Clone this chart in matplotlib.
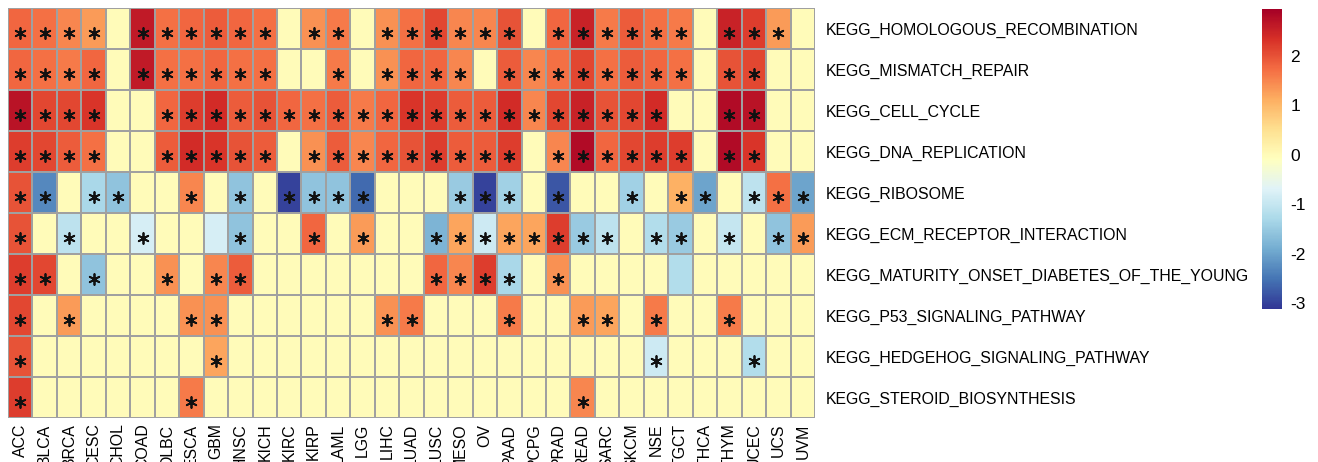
import numpy as np
import matplotlib
matplotlib.use("Agg")
import matplotlib.pyplot as plt
from matplotlib.colors import Normalize

cancers = ["ACC", "BLCA", "BRCA", "CESC", "CHOL", "COAD", "DLBC", "ESCA", "GBM", "HNSC", "KICH",
           "KIRC", "KIRP", "LAML", "LGG", "LIHC", "LUAD", "LUSC", "MESO", "OV", "PAAD", "PCPG",
           "PRAD", "READ", "SARC", "SKCM", "NSE", "TGCT", "THCA", "THYM", "UCEC", "UCS", "UVM"]

pathways = ["KEGG_HOMOLOGOUS_RECOMBINATION", "KEGG_MISMATCH_REPAIR", "KEGG_CELL_CYCLE",
            "KEGG_DNA_REPLICATION", "KEGG_RIBOSOME", "KEGG_ECM_RECEPTOR_INTERACTION",
            "KEGG_MATURITY_ONSET_DIABETES_OF_THE_YOUNG", "KEGG_P53_SIGNALING_PATHWAY",
            "KEGG_HEDGEHOG_SIGNALING_PATHWAY", "KEGG_STEROID_BIOSYNTHESIS"]

# values per pathway (row), in the order of `cancers`
homologous_recombination = [1.8, 1.7, 1.5, 1.3, 0, 2.6, 1.7, 1.8, 1.9, 1.8, 1.7,
                            0, 1.4, 1.6, 0, 1.4, 1.7, 2.1, 1.5, 1.5, 2.0, 0,
                            1.8, 2.5, 1.6, 1.9, 1.7, 1.6, 0, 2.5, 2.2, 1.3, 0]
mismatch_repair = [1.8, 1.7, 1.6, 1.8, 0, 2.6, 1.7, 1.7, 1.8, 1.7, 1.7,
                   0, 0, 1.6, 0, 1.4, 1.8, 1.8, 1.5, 0, 1.9, 1.5,
                   1.7, 2.1, 1.7, 1.9, 1.8, 1.7, 0, 2.0, 2.1, 0, 0]
cell_cycle = [2.7, 2.1, 2.1, 2.3, 0, 0, 1.8, 2.2, 2.4, 1.9, 2.0,
              1.8, 1.7, 1.9, 1.6, 1.8, 2.3, 2.2, 1.9, 1.9, 2.4, 1.5,
              2.1, 2.5, 2.0, 2.1, 2.4, 0, 0, 2.8, 2.7, 0, 0]
dna_replication = [2.2, 2.1, 1.9, 1.7, 0, 0, 1.9, 2.4, 2.3, 2.0, 1.9,
                   0, 1.4, 1.9, 1.5, 1.8, 2.0, 2.2, 1.9, 1.9, 2.2, 0,
                   1.5, 2.8, 1.8, 2.1, 2.2, 2.2, 0, 2.8, 2.3, 0, 0]
ribosome = [2.0, -2.3, 0, -1.3, -1.6, 0, 0, 1.5, 0, -1.6, 0,
            -3.0, -1.6, -1.6, -2.6, 0, 0, 0, -1.5, -3.0, -1.4, 0,
            -2.8, 0, 0, -1.4, 0, 1.1, -2.0, 0, -1.1, 1.7, -2.0]
ecm_receptor = [2.0, 0, -1.1, 0, 0, -0.8, 0, 0, -0.8, -1.6, 0,
                0, 1.8, 0, 1.3, 0, 0, -1.8, 1.2, -0.9, 1.2, 1.2,
                2.2, -1.5, -1.1, 0, -1.2, -1.5, 0, -1.0, 0, -1.6, 1.3]
mody = [2.2, 2.1, 0, -1.6, 0, 0, 1.4, 0, 1.5, 1.9, 0,
        0, 0, 0, 0, 0, 0, 1.8, 1.5, 2.2, -1.3, 0,
        1.4, 0, 0, 0, 0, -1.2, 0, 0, 0, 0, 0]
p53 = [2.1, 0, 1.3, 0, 0, 0, 0, 1.4, 1.4, 0, 0,
       0, 0, 0, 0, 1.4, 1.6, 0, 0, 0, 1.6, 0,
       0, 1.3, 1.2, 0, 1.6, 0, 0, 1.6, 0, 0, 0]
hedgehog = [2.0, 0, 0, 0, 0, 0, 0, 0, 1.2, 0, 0,
            0, 0, 0, 0, 0, 0, 0, 0, 0, 0, 0,
            0, 0, 0, 0, -0.9, 0, 0, 0, -1.2, 0, 0]
steroid = [2.2, 0, 0, 0, 0, 0, 0, 1.6, 0, 0, 0,
           0, 0, 0, 0, 0, 0, 0, 0, 0, 0, 0,
           0, 1.5, 0, 0, 0, 0, 0, 0, 0, 0, 0]

# significance (1 = star)
sig_homologous_recombination = [1,1,1,1,0,1,1,1,1,1,1, 0,1,1,0,1,1,1,1,1,1,0, 1,1,1,1,1,1,0,1,1,1,0]
sig_mismatch_repair          = [1,1,1,1,0,1,1,1,1,1,1, 0,0,1,0,1,1,1,1,0,1,1, 1,1,1,1,1,1,0,1,1,0,0]
sig_cell_cycle               = [1,1,1,1,0,0,1,1,1,1,1, 1,1,1,1,1,1,1,1,1,1,1, 1,1,1,1,1,0,0,1,1,0,0]
sig_dna_replication          = [1,1,1,1,0,0,1,1,1,1,1, 0,1,1,1,1,1,1,1,1,1,0, 1,1,1,1,1,1,0,1,1,0,0]
sig_ribosome                 = [1,1,0,1,1,0,0,1,0,1,0, 1,1,1,1,0,0,0,1,1,1,0, 1,0,0,1,0,1,1,0,1,1,1]
sig_ecm_receptor             = [1,0,1,0,0,1,0,0,0,1,0, 0,1,0,1,0,0,1,1,1,1,1, 1,1,1,0,1,1,0,1,0,1,1]
sig_mody                     = [1,1,0,1,0,0,1,0,1,1,0, 0,0,0,0,0,0,1,1,1,1,0, 1,0,0,0,0,0,0,0,0,0,0]
sig_p53                      = [1,0,1,0,0,0,0,1,1,0,0, 0,0,0,0,1,1,0,0,0,1,0, 0,1,1,0,1,0,0,1,0,0,0]
sig_hedgehog                 = [1,0,0,0,0,0,0,0,1,0,0, 0,0,0,0,0,0,0,0,0,0,0, 0,0,0,0,1,0,0,0,1,0,0]
sig_steroid                  = [1,0,0,0,0,0,0,1,0,0,0, 0,0,0,0,0,0,0,0,0,0,0, 0,1,0,0,0,0,0,0,0,0,0]

cbar_ticks = [-3, -2, -1, 0, 1, 2]

values = np.array([homologous_recombination, mismatch_repair, cell_cycle, dna_replication,
                   ribosome, ecm_receptor, mody, p53, hedgehog, steroid], dtype=float)
sig = np.array([sig_homologous_recombination, sig_mismatch_repair, sig_cell_cycle,
                sig_dna_replication, sig_ribosome, sig_ecm_receptor, sig_mody, sig_p53,
                sig_hedgehog, sig_steroid])

plt.rcParams['font.family'] = ['Liberation Sans', 'DejaVu Sans']

W, H = 1318, 462
fig = plt.figure(figsize=(W / 100, H / 100), dpi=100)

hx0, hx1, hy0, hy1 = 8, 815, 8, 418
ax = fig.add_axes([hx0 / W, 1 - hy1 / H, (hx1 - hx0) / W, (hy1 - hy0) / H])

norm = Normalize(vmin=-3.12, vmax=2.95)
cmap = plt.get_cmap('RdYlBu_r')
nr, nc = values.shape
mesh = ax.pcolormesh(np.arange(nc + 1), np.arange(nr + 1), values, cmap=cmap, norm=norm,
                     edgecolors='#a0a0a0', linewidth=1.1)
ax.set_xlim(0, nc)
ax.set_ylim(nr, 0)

rr, cc = np.nonzero(sig)
ax.scatter(cc + 0.5, rr + 0.6, marker=(6, 2, 0), s=62, c='#111111', linewidths=1.3)

for s in ax.spines.values():
    s.set_visible(False)

ax.set_xticks(np.arange(nc) + 0.5)
ax.set_xticklabels(cancers, rotation=90, fontsize=11.4, va='top', ha='center')
ax.set_yticks(np.arange(nr) + 0.5)
ax.set_yticklabels(pathways, fontsize=11.4)
ax.yaxis.tick_right()
ax.tick_params(axis='both', length=0)
ax.tick_params(axis='x', pad=4)
ax.tick_params(axis='y', pad=8)

cax = fig.add_axes([1262 / W, 1 - 309 / H, 20 / W, 300 / H])
cb = fig.colorbar(mesh, cax=cax, ticks=cbar_ticks)
cb.outline.set_visible(False)
cb.ax.set_yticklabels([str(t) for t in cbar_ticks])
cb.ax.tick_params(length=0, labelsize=12.5, pad=6)

fig.savefig("out.png", dpi=100)
